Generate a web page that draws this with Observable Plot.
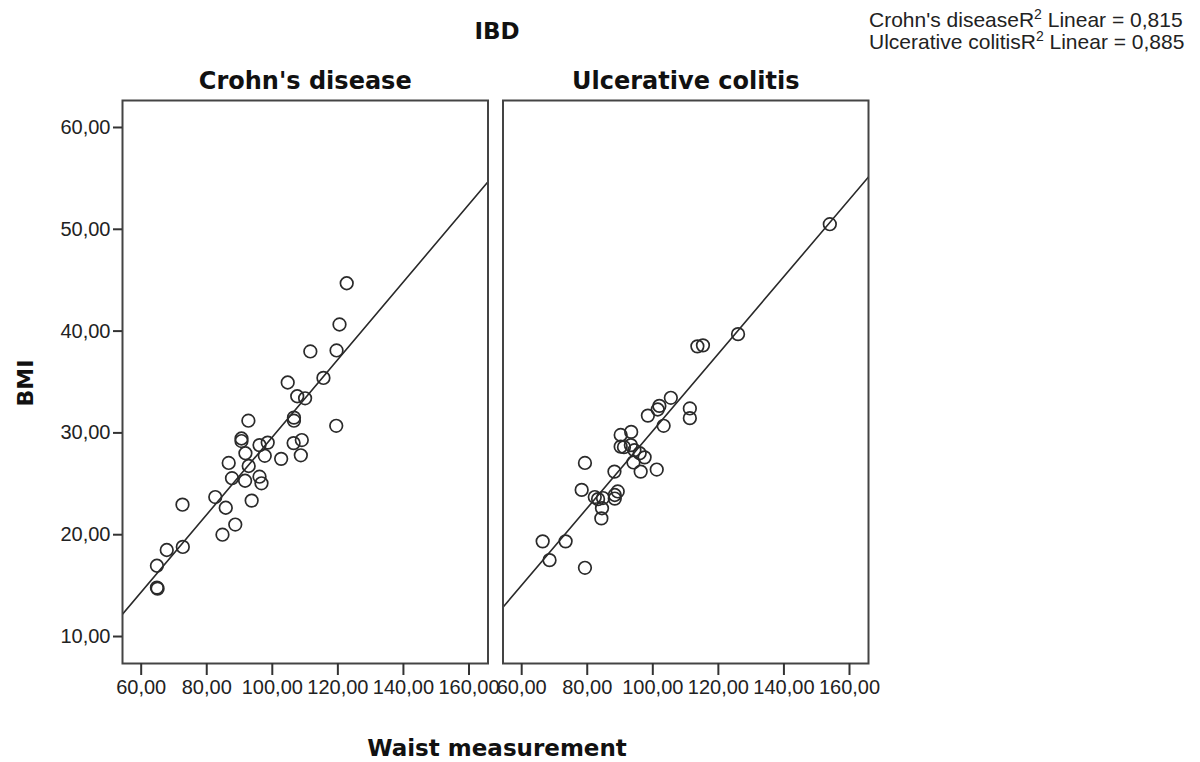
<!DOCTYPE html>
<html>
<head>
<meta charset="utf-8">
<script src="https://cdn.jsdelivr.net/npm/d3@7"></script>
<script src="https://cdn.jsdelivr.net/npm/@observablehq/plot@0.6"></script>
<style>
  html, body { margin: 0; padding: 0; background: #fff; }
  #chart { width: 1200px; height: 762px; }
</style>
</head>
<body>
<div id="chart"></div>
<script>
// ---- Data ----
const groups = ["Crohn's disease", "Ulcerative colitis"];

const cdWaist = [122.7, 120.5, 111.6, 119.6, 104.7, 115.6, 107.6, 110.0, 92.7, 106.6,
                 106.6, 119.5, 90.6, 90.6, 96.1, 98.6, 106.5, 109.0, 91.8, 97.7,
                 102.7, 108.7, 86.7, 92.8, 87.7, 91.7, 96.1, 96.7, 82.6, 72.6,
                 85.8, 93.7, 88.7, 84.8, 67.8, 72.7, 64.8, 64.8, 65.0];
const cdBMI   = [44.7, 40.65, 38.0, 38.1, 34.95, 35.4, 33.6, 33.4, 31.2, 31.5,
                 31.2, 30.7, 29.45, 29.2, 28.8, 29.05, 29.0, 29.3, 28.0, 27.75,
                 27.45, 27.8, 27.05, 26.75, 25.55, 25.3, 25.7, 25.05, 23.7, 22.95,
                 22.65, 23.35, 21.0, 20.0, 18.5, 18.8, 16.95, 14.8, 14.7];

const ucWaist = [154.0, 126.0, 113.6, 115.3, 105.5, 102.0, 101.5, 98.5, 111.3, 111.3,
                 103.3, 93.4, 90.2, 90.2, 91.2, 93.3, 94.4, 96.0, 97.5, 94.1,
                 96.3, 101.2, 88.3, 79.3, 78.3, 82.3, 83.3, 84.8, 88.4, 89.3,
                 84.5, 84.3, 66.4, 73.4, 68.5, 79.3, 88.4];
const ucBMI   = [50.5, 39.7, 38.5, 38.6, 33.45, 32.65, 32.3, 31.7, 32.4, 31.45,
                 30.7, 30.1, 29.8, 28.65, 28.6, 28.8, 28.3, 28.0, 27.6, 27.1,
                 26.2, 26.4, 26.2, 27.05, 24.4, 23.7, 23.5, 23.6, 23.9, 24.25,
                 22.6, 21.6, 19.35, 19.35, 17.5, 16.75, 23.55];

// Linear fit lines and R² values from the legend
const fitSlope = [0.381, 0.379];
const fitIntercept = [-8.5, -7.7];
const r2Labels = ["0,815", "0,885"];

const xTicks = [60, 80, 100, 120, 140, 160];
const yTicks = [10, 20, 30, 40, 50, 60];

// ---- Build tables ----
const rows = [
  ...cdWaist.map((w, i) => ({group: groups[0], waist: w, bmi: cdBMI[i]})),
  ...ucWaist.map((w, i) => ({group: groups[1], waist: w, bmi: ucBMI[i]}))
];
const xDomain = [54.3, 165.8];
const yDomain = [7.35, 62.65];
const fits = groups.flatMap((g, i) =>
  xDomain.map(x => ({group: g, waist: x, bmi: fitIntercept[i] + fitSlope[i] * x})));

const fmt = v => v.toFixed(2).replace(".", ",");

const plot = Plot.plot({
  width: 1200,
  height: 762,
  marginLeft: 122,
  marginRight: 332,
  marginTop: 100,
  marginBottom: 99,
  style: {fontFamily: "'Liberation Sans', Arial, sans-serif", fontSize: "20px", color: "#222", background: "#fff"},
  fx: {domain: groups, paddingInner: 15 / 380.5, paddingOuter: 0, round: false, label: null},
  x: {domain: xDomain, label: null},
  y: {domain: yDomain, label: null},
  marks: [
    Plot.line(fits, {fx: "group", x: "waist", y: "bmi", stroke: "#2a2a2a", strokeWidth: 1.6, clip: true}),
    Plot.dot(rows, {fx: "group", x: "waist", y: "bmi", r: 6.3, stroke: "#2a2a2a", strokeWidth: 1.7, fill: "none"}),
    Plot.frame({stroke: "#444", strokeWidth: 2}),
    Plot.axisX({ticks: xTicks, tickFormat: fmt, tickSize: 12, tickPadding: 4, label: null, stroke: "#333", strokeWidth: 2, fontSize: 20}),
    Plot.axisY({ticks: yTicks, tickFormat: fmt, tickSize: 9, tickPadding: 3, label: null, stroke: "#333", strokeWidth: 2, fontSize: 20}),
    Plot.axisFx({anchor: "top", tickSize: 0, tickPadding: 12, label: null, fontSize: 24, fontWeight: "bold", fontFamily: "'DejaVu Sans', Verdana, sans-serif", fill: "#111"})
  ]
});

document.getElementById("chart").appendChild(plot);

// ---- Titles, axis labels and fit legend (text) ----
const svg = d3.select(plot);
const titleFont = "'DejaVu Sans', Verdana, sans-serif";
svg.append("text").text("IBD")
  .attr("x", 497).attr("y", 39).attr("text-anchor", "middle")
  .attr("font-family", titleFont).attr("font-weight", "bold").attr("font-size", 23).attr("fill", "#111");
svg.append("text").text("Waist measurement")
  .attr("x", 497).attr("y", 756).attr("text-anchor", "middle")
  .attr("font-family", titleFont).attr("font-weight", "bold").attr("font-size", 23).attr("fill", "#111");
svg.append("text").text("BMI")
  .attr("transform", "translate(33,383) rotate(-90)").attr("text-anchor", "middle")
  .attr("font-family", titleFont).attr("font-weight", "bold").attr("font-size", 22).attr("fill", "#111");

const legend = svg.append("g")
  .attr("font-family", "'Liberation Sans', Arial, sans-serif")
  .attr("font-size", 21).attr("fill", "#222").attr("text-anchor", "start");
groups.forEach((g, i) => {
  const t = legend.append("text").attr("x", 869).attr("y", 27 + i * 22);
  t.append("tspan").text(g + "R");
  t.append("tspan").text("2").attr("dy", -8).attr("font-size", 14);
  t.append("tspan").text(" Linear = " + r2Labels[i]).attr("dy", 8);
});
</script>
</body>
</html>
